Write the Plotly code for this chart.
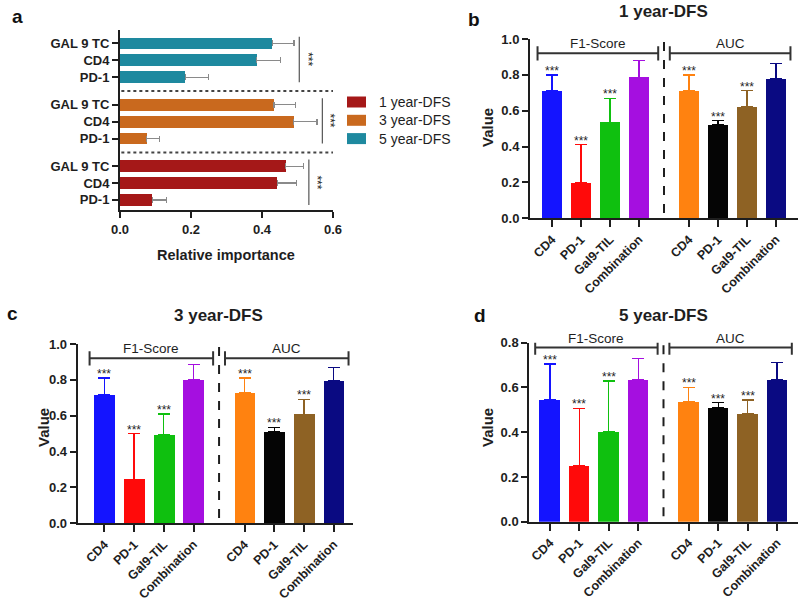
import plotly.graph_objects as go

FONT = "Liberation Sans, Arial, sans-serif"
INK = "#1e1e1e"

# panel a: relative importance
features = ["PD-1", "CD4", "GAL 9 TC"]
horizons = ["1 year-DFS", "3 year-DFS", "5 year-DFS"]
horizon_colors = ["#a51818", "#c9691e", "#1e899f"]
imp_1y = [0.091, 0.443, 0.467]
imp_1y_err = [0.041, 0.055, 0.050]
imp_3y = [0.075, 0.489, 0.434]
imp_3y_err = [0.036, 0.066, 0.061]
imp_5y = [0.184, 0.385, 0.429]
imp_5y_err = [0.066, 0.068, 0.061]

# panels b-d: model performance
models = ["CD4", "PD-1", "Gal9-TIL", "Combination"]
metrics = ["F1-Score", "AUC"]
f1_colors = ["#1414ff", "#ff0a0a", "#0fc00f", "#a50fe0"]
auc_colors = ["#ff8210", "#050505", "#8e6224", "#0a0a82"]
stars = ["***", "***", "***", ""]

f1_1y = [0.712, 0.199, 0.535, 0.786]
f1_1y_err = [0.088, 0.211, 0.135, 0.094]
auc_1y = [0.712, 0.520, 0.622, 0.778]
auc_1y_err = [0.088, 0.024, 0.090, 0.086]

f1_3y = [0.716, 0.245, 0.492, 0.800]
f1_3y_err = [0.094, 0.255, 0.118, 0.087]
auc_3y = [0.728, 0.511, 0.608, 0.794]
auc_3y_err = [0.082, 0.024, 0.084, 0.074]

f1_5y = [0.547, 0.250, 0.402, 0.633]
f1_5y_err = [0.158, 0.257, 0.227, 0.097]
auc_5y = [0.536, 0.511, 0.484, 0.636]
auc_5y_err = [0.064, 0.021, 0.060, 0.076]

W, H = 800, 603
A_STEP = 3.65
M_STEP = 4.72


def px(x, y):
    return x / W, 1 - y / H


def paper_text(text, x, y, size, angle=0, xanchor="center", color=INK):
    fig.add_annotation(x=x / W, y=1 - y / H, xref="paper", yref="paper",
                       text=text, textangle=angle, showarrow=False,
                       xanchor=xanchor, yanchor="middle",
                       font=dict(size=size, color=color, family=FONT))


fig = go.Figure()

# ---- panel a
a_pos = []
for g, (vals, errs) in enumerate(
    [(imp_1y, imp_1y_err), (imp_3y, imp_3y_err), (imp_5y, imp_5y_err)]
):
    pos = [g * A_STEP + i for i in range(len(features))]
    a_pos += pos
    fig.add_trace(
        go.Bar(
            x=vals,
            y=pos,
            orientation="h",
            width=0.7,
            name=horizons[g],
            showlegend=False,
            marker=dict(color=horizon_colors[g], line=dict(width=0)),
            error_x=dict(
                type="data", array=errs, arrayminus=[0] * 3, symmetric=False,
                color="#8a8a8a", thickness=1.2, width=3,
            ),
            xaxis="x", yaxis="y",
        )
    )
    bx = max(v + e for v, e in zip(vals, errs)) + 0.015
    fig.add_shape(type="line", xref="x", yref="y", x0=bx, x1=bx,
                  y0=pos[0] - 0.3, y1=pos[-1] + 0.4,
                  line=dict(color="#555", width=1.2))
    fig.add_annotation(x=bx, y=(pos[0] + pos[-1]) / 2 + 0.05, xref="x", yref="y",
                       text="***", textangle=90, showarrow=False, xshift=8,
                       font=dict(size=12, color=INK, family=FONT))
    if g > 0:
        mid = g * A_STEP - (A_STEP - 2) / 2
        fig.add_shape(type="line", xref="x", yref="y", x0=-0.03, x1=0.6,
                      y0=mid, y1=mid, line=dict(color="#444", width=2, dash="dot"))

    # legend row (drawn by hand to match the original swatches)
    ly = 102 + 18.3 * g
    fig.add_shape(type="rect", xref="paper", yref="paper",
                  x0=347 / W, x1=366 / W, y0=px(0, ly + 5.5)[1], y1=px(0, ly - 5.5)[1],
                  fillcolor=horizon_colors[g], line=dict(width=0))
    paper_text(horizons[g], 377, ly, 14, xanchor="left")

paper_text("<b>Relative importance</b>", 226, 255, 14.5)


# ---- panels b, c, d
def metric_panel(n, f1, f1_err, auc, auc_err, ymax, title, tx, ty):
    xa, ya = f"x{n}", f"y{n}"
    for g, (vals, errs, cols) in enumerate(
        [(f1, f1_err, f1_colors), (auc, auc_err, auc_colors)]
    ):
        for i in range(len(models)):
            x = g * M_STEP + i
            fig.add_trace(
                go.Bar(
                    x=[x], y=[vals[i]], width=0.7, showlegend=False,
                    marker=dict(color=cols[i], line=dict(width=0)),
                    error_y=dict(type="data", array=[errs[i]], arrayminus=[0],
                                 symmetric=False, color=cols[i], thickness=1.3, width=6),
                    xaxis=xa, yaxis=ya,
                )
            )
            if stars[i]:
                fig.add_annotation(x=x, y=vals[i] + errs[i], xref=xa, yref=ya,
                                   text=stars[i], showarrow=False, yanchor="bottom",
                                   yshift=-5, font=dict(size=12, color=INK, family=FONT))
    mid = (3 + M_STEP) / 2
    fig.add_shape(type="line", xref=xa, yref=f"{ya} domain", x0=mid, x1=mid,
                  y0=0.03, y1=1, line=dict(color=INK, width=2, dash="dash"))
    by = ymax * 0.92 if ymax == 1.0 else ymax * 0.9725
    for (x0, x1), label in zip([(-0.5, mid - 0.2), (mid + 0.2, 3 + M_STEP + 0.5)], metrics):
        fig.add_shape(type="line", xref=xa, yref=ya, x0=x0, x1=x1, y0=by, y1=by,
                      line=dict(color="#333", width=2))
        for xe in (x0, x1):
            fig.add_shape(type="line", xref=xa, yref=ya, x0=xe, x1=xe,
                          y0=by - ymax * 0.04, y1=by + ymax * 0.04,
                          line=dict(color="#333", width=2))
        fig.add_annotation(x=(x0 + x1) / 2, y=by, xref=xa, yref=ya, text=label,
                           showarrow=False, xanchor="center", yanchor="bottom", yshift=0,
                           font=dict(size=13.5, color=INK, family=FONT))
    paper_text(f"<b>{title}</b>", tx, ty, 17)


metric_panel(2, f1_1y, f1_1y_err, auc_1y, auc_1y_err, 1.0, "1 year-DFS", 663, 11)
metric_panel(3, f1_3y, f1_3y_err, auc_3y, auc_3y_err, 1.0, "3 year-DFS", 218, 315)
metric_panel(4, f1_5y, f1_5y_err, auc_5y, auc_5y_err, 0.8, "5 year-DFS", 663, 315)

for x, y in [(487, 128), (43, 428), (487, 428)]:
    paper_text("<b>Value</b>", x, y, 15, angle=-90)

for lab, x, y in [("a", 17, 17), ("b", 474, 20), ("c", 12, 313), ("d", 480, 315)]:
    paper_text(f"<b>{lab}</b>", x, y, 19, color="#111")

axis_style = dict(
    showline=True, linecolor=INK, linewidth=2, ticks="outside", ticklen=6,
    tickwidth=2, tickcolor=INK, showgrid=False, zeroline=False, automargin=False,
    tickfont=dict(size=13, color=INK, family=FONT),
)
x_style = dict(tickangle=-45, ticklen=7, tickfont=dict(size=12.5, color=INK, family=FONT))

m_ticks = [g * M_STEP + i for g in range(2) for i in range(len(models))]
m_text = [f"<b>{m}</b>" for m in models] * 2


def dom(a, b):
    return [a / W, b / W]


def vdom(top, bottom):
    return [1 - bottom / H, 1 - top / H]


def yticks(top):
    vals = [round(0.2 * k, 1) for k in range(int(round(top / 0.2)) + 1)]
    return dict(tickvals=vals, ticktext=["<b>%.1f</b>" % v for v in vals])


fig.update_layout(
    width=W, height=H,
    margin=dict(l=0, r=0, t=0, b=0),
    paper_bgcolor="white", plot_bgcolor="white",
    font=dict(family=FONT, color=INK),
    bargap=0,
    showlegend=False,
    xaxis=dict(axis_style, domain=dom(120, 333), range=[0, 0.6], anchor="y",
               **yticks(0.6)),
    yaxis=dict(axis_style, domain=vdom(30, 210), range=[-0.6, 10.1], anchor="x",
               tickvals=a_pos, ticktext=[f"<b>{f}</b>" for f in features] * 3),
    xaxis2=dict(axis_style, domain=dom(530, 798), range=[-0.76, 8.48], anchor="y2",
                tickvals=m_ticks, ticktext=m_text, **x_style),
    yaxis2=dict(axis_style, domain=vdom(39, 218.3), range=[0, 1.0], anchor="x2",
                **yticks(1.0)),
    xaxis3=dict(axis_style, domain=dom(77.7, 352.7), range=[-0.9, 8.36], anchor="y3",
                tickvals=m_ticks, ticktext=m_text, **x_style),
    yaxis3=dict(axis_style, domain=vdom(344, 523.3), range=[0, 1.0], anchor="x3",
                **yticks(1.0)),
    xaxis4=dict(axis_style, domain=dom(529.3, 798), range=[-0.7, 8.43], anchor="y4",
                tickvals=m_ticks, ticktext=m_text, **x_style),
    yaxis4=dict(axis_style, domain=vdom(342.7, 521.7), range=[0, 0.8], anchor="x4",
                **yticks(0.8)),
)

fig.write_html(
    "out.html",
    config={"displayModeBar": False},
    post_script="document.body.style.margin = '0';",
)
